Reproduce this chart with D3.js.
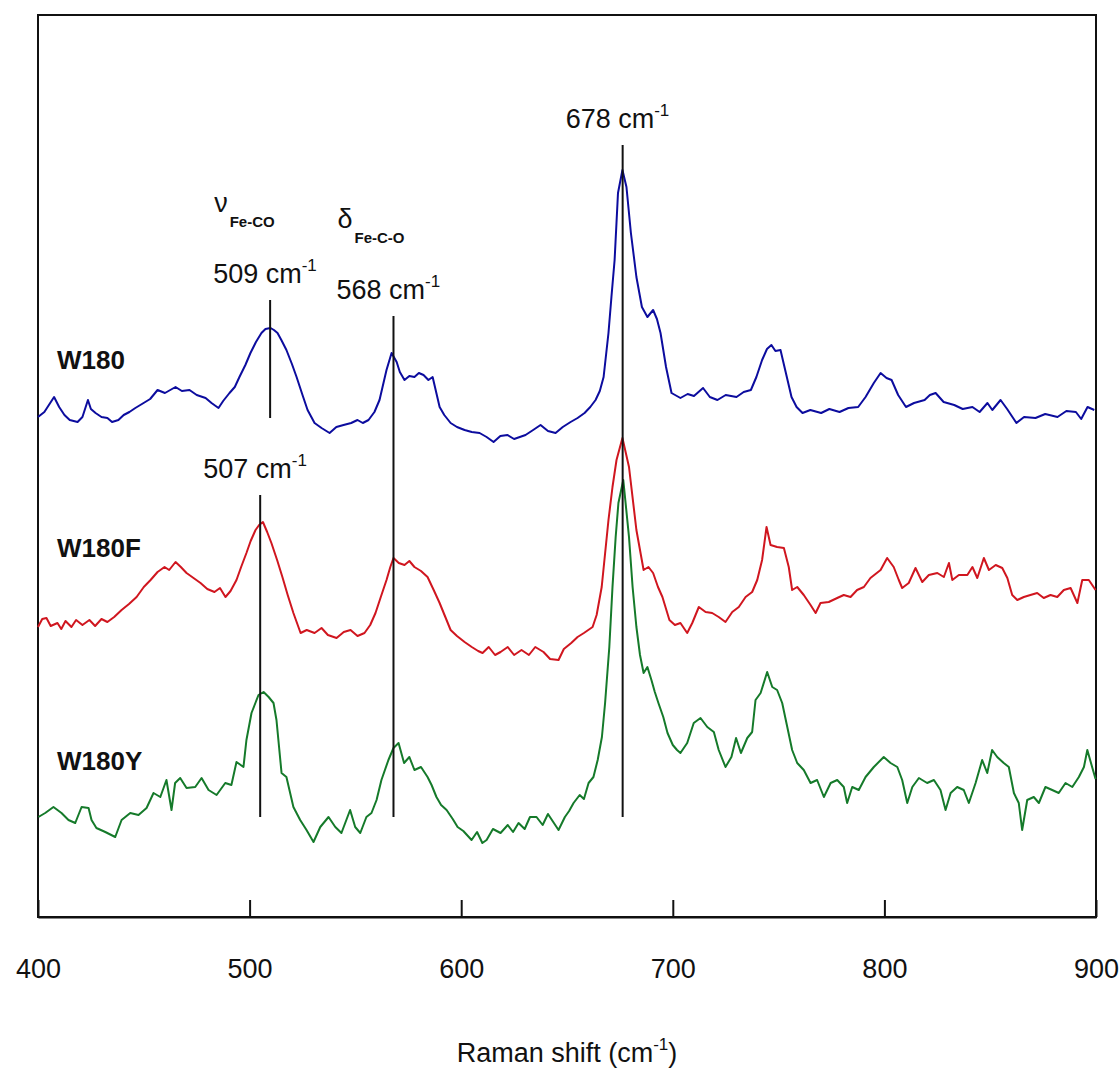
<!DOCTYPE html>
<html>
<head>
<meta charset="utf-8">
<script src="https://cdn.jsdelivr.net/npm/d3@7"></script>
<style>
  body { margin: 0; background: #fff; }
  svg text { font-family: "Liberation Sans", Arial, sans-serif; fill: #111; }
</style>
</head>
<body>
<div id="chart"></div>
<script>
// Raman spectra: [wavenumber cm-1, intensity (a.u., offset traces)]
var w180 = [
  [400,500],[403,505],[407.6,520],[410,510],[412.5,502],[415,497],[418.7,495],[421,500],[423.6,517],[425,508],
  [427.2,504],[430,500],[432.8,499],[435,495],[438,497],[440.5,502],[443.2,505],[446,509],[449.9,514],[453,518],
  [456.5,527],[460,524],[465,530],[468,526],[471.6,527],[475,522],[479.2,519],[482,514],[485.3,509],[487.5,516],
  [490.5,524],[493,530],[495.2,540],[498,552],[500.4,564],[503,575],[505.6,584],[507.5,588],[509.9,589],[511.5,587],
  [513.2,584],[515,577],[517.4,567],[520,553],[522.2,540],[525,522],[527.4,507],[530.7,494],[534,489],[537.8,484],
  [541,490],[544.4,492],[548,494],[551,497],[553.5,494],[556.2,497],[559,505],[561.4,517],[564.7,547],[567.1,564],
  [569.5,555],[571,545],[573.2,537],[575.5,541],[577.9,540],[580,544],[582.2,542],[584.5,537],[586.5,540],[589.8,510],
  [592,502],[595,494],[598,490],[601.6,487],[605,485],[608.7,484],[612,480],[615.3,475],[618.5,481],[621.9,482],
  [625,478],[630.4,482],[634,487],[637.5,492],[641,486],[644.6,484],[648,490],[651.7,495],[655,499],[658.3,504],
  [661,510],[663.5,517],[665.5,526],[667.3,540],[669.6,584],[671,620],[672.5,657],[674.1,724],[676.2,747],[678.1,730],
  [680.2,684],[682.8,640],[685.4,610],[688,600],[690.7,607],[692.5,598],[694.2,584],[696.8,550],[699.4,524],[703.6,519],
  [707,523],[710,521],[714.3,529],[717.5,520],[721.1,517],[725,522],[730.1,520],[733.5,525],[736.9,527],[739.5,540],
  [742.2,557],[744.5,568],[746.6,572],[748.5,566],[750.9,567],[753,548],[756.1,520],[758.5,510],[761.3,504],[765,507],
  [770.1,504],[774,508],[778.8,505],[783,509],[787.6,510],[791.1,520],[795,534],[798.2,544],[801,539],[803.4,537],
  [806.5,522],[810.2,510],[814,514],[819,517],[821.5,522],[824.2,524],[828,515],[833,512],[837,508],[841.6,510],
  [845,505],[848.7,514],[851,507],[854.9,517],[858,508],[862.4,494],[866,500],[871.4,499],[876,503],[881.8,500],
  [886,506],[890.5,505],[893,498],[896,510],[899.2,507]
];
var w180F = [
  [400,290],[402,298],[404,299],[406,291],[409.2,294],[411,288],[413,296],[415.8,290],[418,297],[421,292],
  [424.3,297],[427,291],[430,298],[432.8,295],[436,300],[439.5,307],[443,313],[446.6,320],[450,330],[453.2,337],
  [456.5,345],[459.8,350],[462,347],[465,355],[467.5,350],[470.2,344],[473.5,339],[476.8,334],[480,328],[483.4,325],
  [486,329],[488.6,320],[491,326],[493.8,337],[496,350],[498.5,364],[500.5,376],[502.8,387],[504.5,392],[506.3,395],
  [508.3,385],[510.3,374],[513,357],[515.5,340],[518,322],[520.7,304],[524.1,284],[527,287],[530.7,284],[534,289],
  [537,282],[541.1,279],[544.5,285],[547.7,287],[551,281],[554.3,284],[557,292],[559.5,304],[562,320],[564.7,337],
  [566.5,350],[568,359],[570.5,354],[573.2,352],[575.5,356],[577.9,350],[581,346],[584.1,340],[587,327],[589.8,314],
  [592.5,300],[595,287],[598,281],[601.6,275],[605,270],[608,266],[610.1,264],[613,270],[616,262],[618.6,265],
  [622,270],[625,262],[628.5,267],[632,262],[635,270],[638.9,265],[642,258],[646,257],[648.5,268],[652,274],
  [655,280],[658,284],[662.1,290],[664,302],[666.4,330],[669.6,397],[671.5,430],[673.4,457],[676.2,479],[679.3,450],
  [682.8,387],[686.2,347],[688.5,350],[690.7,344],[693,330],[695.1,320],[698.4,297],[701,292],
  [703.6,294],[706.8,284],[709.2,294],[712.3,310],[715.5,305],[718.6,304],[721.7,300],[724.9,295],[728.1,305],[731.2,310],
  [734.4,320],[737.5,325],[739.9,337],[742.2,357],[744.3,390],[746.2,372],[749.3,370],[752.5,369],[754.8,350],[756.4,327],
  [758.8,330],[761.9,322],[765.1,312],[767.5,304],[769.8,314],[773.7,315],[777.7,319],[780.8,322],[784,320],[787.1,327],
  [790.3,330],[793.4,339],[798.2,347],[801.3,359],[804.4,350],[806.8,337],[808.4,329],[811.5,334],[814.7,349],[817.9,335],
  [821,342],[825,344],[828.1,340],[830.5,354],[832.1,337],[835.2,342],[839.2,342],[841.6,350],[843.9,339],[847,359],
  [849.4,347],[852.6,352],[855.7,349],[858.1,339],[860.4,322],[862.8,317],[865.9,320],[869,322],[872.2,324],[875.3,319],
  [878.5,322],[881.7,320],[884.8,327],[888,329],[891.2,314],[893.5,337],[896.6,337],[899.8,327]
];
var w180Y = [
  [400.2,100],[403.4,104],[407.3,110],[411.1,104],[414.4,97],[417.6,94],[420.6,110],[423.9,109],[425.3,97],[427.6,89],
  [431.8,85],[436.5,80],[439.5,97],[443.6,104],[447.5,102],[451.3,109],[454.6,124],[457.8,120],[460.7,137],[463.1,107],
  [464.8,134],[467.2,139],[470.2,129],[474.3,130],[477.3,139],[480.6,127],[484.4,122],[488.5,134],[491.4,132],[493.8,155],
  [497.1,150],[498.5,177],[500.9,204],[504.2,222],[506.6,225],[509,220],[511.3,214],[512.7,197],[515.1,144],[517.4,140],
  [520.7,110],[523.9,97],[526.9,87],[530.2,75],[533.4,90],[537.3,100],[540.5,90],[543.4,84],[547.5,107],[549.9,90],
  [552.3,84],[555.2,100],[557.6,104],[560,117],[562.3,137],[565.6,157],[568,169],[570.4,174],
  [573,154],[575.5,160],[577.9,147],[581,150],[584.1,140],[586,132],[588.3,120],[590.5,112],[593.1,107],[596,98],
  [598.3,90],[601,86],[604.9,77],[607.5,85],[610,74],[612,77],[615,88],[618.6,84],[622,92],[624.5,85],
  [627.1,94],[630,88],[632.5,100],[635.6,100],[638.5,92],[641,103],[643.5,95],[646,87],[649,100],[651,106],
  [653.1,114],[656,122],[658,118],[660.2,134],[662.5,140],[664.5,157],[666.5,180],[668,214],[670,270],[671.5,330],
  [673,380],[674.3,414],[676.6,437],[679.3,380],[681,330],[682.8,290],[684.5,262],[686.2,244],[688,250],[689.9,237],
  [691.5,225],[693.2,214],[695.5,200],[697.5,184],[700,172],[702,167],
  [703.6,164],[706.8,174],[709.9,194],[713.1,199],[716.3,190],[719.4,185],[721.7,167],[724.9,150],[727.7,160],[729.9,179],
  [732.2,164],[735.2,179],[737.5,185],[739.1,217],[741.5,224],[744.6,245],[747,230],[749.3,227],[751.7,214],[754.1,190],
  [756.4,167],[758.8,154],[761.9,147],[765.1,134],[768.2,137],[771.4,120],[774.6,134],[777.7,137],[780.8,130],[782.4,114],
  [784.8,130],[787.9,127],[791.1,140],[795,150],[799.7,160],[802.9,154],[806.1,150],[808.4,137],[810.8,114],[813.2,130],
  [816.3,139],[820.2,134],[823.4,137],[826.5,127],[828.9,107],[831.3,124],[834.4,130],[837.5,127],[839.9,114],[843.1,134],
  [846.2,157],[848.6,144],[850.9,167],[853.3,160],[856.4,154],[858.8,150],[861.2,124],[863.5,114],[865.1,87],[867.5,117],
  [870.6,120],[873,114],[876.1,130],[879.3,127],[882.4,124],[885.6,134],[888.8,130],[891.9,140],[894.3,150],[895.9,167],
  [898.3,149],[899.8,138]
];
var seriesNames = ["W180", "W180F", "W180Y"];
var seriesColors = ["#0c0c9e", "#d0161f", "#157a2a"];
var labelLevels = [548, 360, 147];   // intensity level of each name label

// marker lines: position (cm-1), top and bottom (intensity units)
var markerX = [509.7, 568, 676.3, 505];
var markerTop = [617, 601, 772, 422];
var markerBottom = [499, 100, 100, 100];
var markerText = ["509", "568", "678", "507"];

var xTicks = [400, 500, 600, 700, 800, 900];

var margin = {top: 15, right: 23, bottom: 152, left: 38},
    width = 1119 - margin.left - margin.right,
    height = 1069 - margin.top - margin.bottom;

var svg = d3.select("#chart").append("svg")
    .attr("width", 1119).attr("height", 1069)
    .append("g")
    .attr("transform", "translate(" + margin.left + "," + margin.top + ")");

var x = d3.scaleLinear().domain([400, 900]).range([0, width]);
var y = d3.scaleLinear().domain([0, height]).range([height, 0]);

// frame
svg.append("rect")
    .attr("x", 0).attr("y", 0)
    .attr("width", width).attr("height", height)
    .attr("fill", "none").attr("stroke", "#111").attr("stroke-width", 2);

// x axis, ticks pointing inward
var xAxis = d3.axisBottom(x).tickValues(xTicks).tickSizeInner(-17).tickSizeOuter(0).tickPadding(61);
var gx = svg.append("g").attr("transform", "translate(0," + height + ")").call(xAxis);
gx.select(".domain").attr("stroke", "#111").attr("stroke-width", 2);
gx.selectAll(".tick line").attr("stroke", "#111").attr("stroke-width", 2);
gx.selectAll(".tick text").attr("font-size", 27).attr("dy", 0).attr("fill", "#111")
    .style("font-family", "'Liberation Sans', Arial, sans-serif");

// axis title
var title = svg.append("text")
    .attr("x", width / 2).attr("y", height + 145)
    .attr("text-anchor", "middle").attr("font-size", 27);
title.append("tspan").text("Raman shift (cm");
title.append("tspan").attr("font-size", 17).attr("dy", -12).text("-1");
title.append("tspan").attr("dy", 12).text(")");

// spectra
var line = d3.line()
    .x(function(d) { return x(d[0]); })
    .y(function(d) { return y(d[1]); });

[w180, w180F, w180Y].forEach(function(data, i) {
    svg.append("path")
        .datum(data)
        .attr("d", line)
        .attr("fill", "none")
        .attr("stroke", seriesColors[i])
        .attr("stroke-width", 2)
        .attr("stroke-linejoin", "round");
    svg.append("text")
        .attr("x", 19).attr("y", y(labelLevels[i]))
        .attr("font-size", 26).attr("font-weight", "bold")
        .text(seriesNames[i]);
});

// marker lines
markerX.forEach(function(v, i) {
    svg.append("line")
        .attr("x1", x(v)).attr("x2", x(v))
        .attr("y1", y(markerTop[i])).attr("y2", y(markerBottom[i]))
        .attr("stroke", "#111").attr("stroke-width", 2);
    var t = svg.append("text")
        .attr("x", x(v) - 57).attr("y", y(markerTop[i]) - 17)
        .attr("font-size", 27);
    t.append("tspan").text(markerText[i] + " cm");
    t.append("tspan").attr("font-size", 17).attr("dy", -12).text("-1");
});

// mode labels
function modeLabel(sym, sub, v, top) {
    var t = svg.append("text")
        .attr("x", x(v) - 56).attr("y", y(top) - 88)
        .attr("font-size", 27);
    t.append("tspan").text(sym);
    t.append("tspan").attr("font-size", 15).attr("font-weight", "bold").attr("dx", 2).attr("dy", 15).text(sub);
}
modeLabel("\u03bd", "Fe-CO", markerX[0], markerTop[0]);
modeLabel("\u03b4", "Fe-C-O", markerX[1], markerTop[1]);
</script>
</body>
</html>
